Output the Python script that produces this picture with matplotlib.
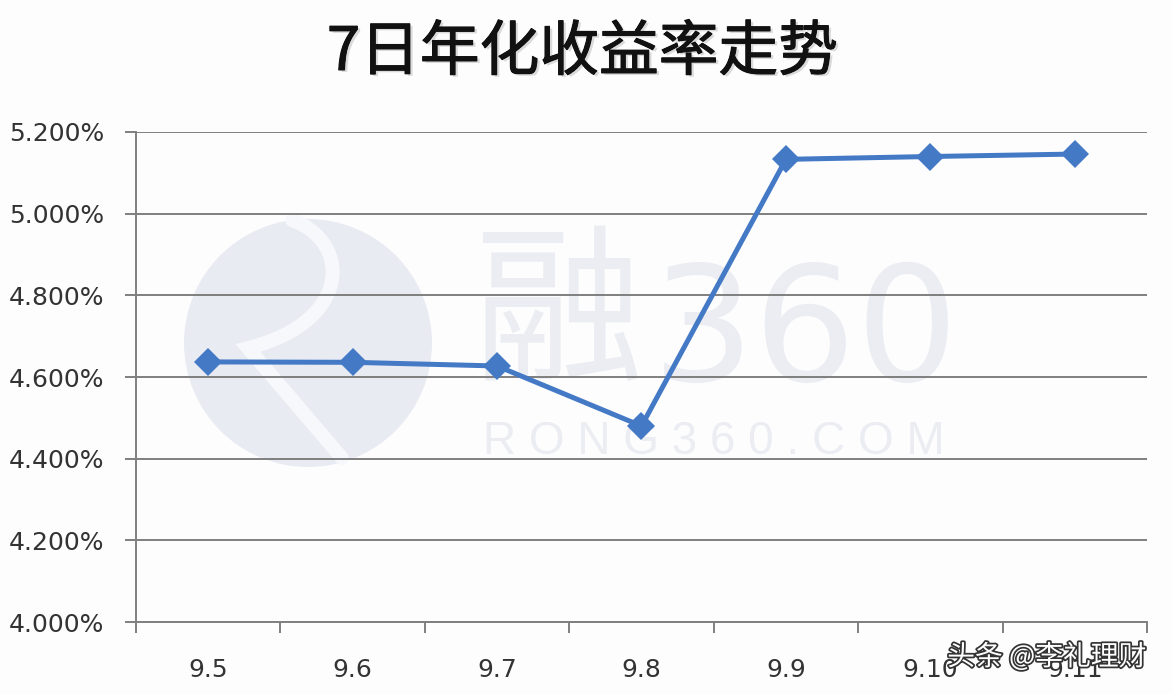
import matplotlib.pyplot as plt
from matplotlib.patches import Circle, PathPatch
from matplotlib.path import Path
import matplotlib.patheffects as pe

plt.rcParams['font.family'] = ['Noto Sans CJK SC', 'DejaVu Sans']

# 7-day annualised yield, by date
dates = ['9.5', '9.6', '9.7', '9.8', '9.9', '9.10', '9.11']
rates = [4.637, 4.636, 4.627, 4.480, 5.133, 5.140, 5.146]
yticks = [4.0, 4.2, 4.4, 4.6, 4.8, 5.0, 5.2]

fig = plt.figure(figsize=(11.72, 6.94), dpi=100)
fig.patch.set_facecolor('#fdfdfe')

# background layer for the faint watermark (pixel coords, y up)
bg = fig.add_axes([0, 0, 1, 1], zorder=0)
bg.set_xlim(0, 1172)
bg.set_ylim(0, 694)
bg.axis('off')
bg.add_patch(Circle((308, 351), 124, facecolor='#e9ebf3', edgecolor='none'))
# the white "R" swoosh of the logo
swoosh = Path([(292, 474), (352, 452), (352, 372), (248, 346), (342, 236)],
              [Path.MOVETO, Path.CURVE4, Path.CURVE4, Path.CURVE4, Path.LINETO])
bg.add_patch(PathPatch(swoosh, facecolor='none', edgecolor='#f7f8fb', lw=10,
                       capstyle='round'))
bg.text(558, 376, '融', fontsize=122, color='#ebedf2', ha='center',
        va='center', fontfamily=['Noto Sans CJK SC'])
bg.text(806, 358, '360', fontsize=116, color='#ebedf2', ha='center',
        va='center', fontfamily=['DejaVu Sans'])
bg.text(714, 252, 'R O N G 3 6 0 . C O M', fontsize=33, color='#ebedf2',
        ha='center', va='center',
        fontfamily=['Liberation Sans', 'DejaVu Sans'])

ax = fig.add_axes([0.116, 0.1037, 0.8627, 0.7061], zorder=1)
ax.set_facecolor('none')

x = list(range(len(dates)))
ax.plot(x, rates, color='#4479c6', lw=3.6, marker='D', ms=14,
        markeredgewidth=0, zorder=3)

ax.set_xlim(-0.5, len(dates) - 0.5)
ax.set_ylim(4.0, 5.2)
ax.set_yticks(yticks)
ax.set_yticklabels(['%.3f%%' % v for v in yticks])
ax.set_xticks(x)
ax.set_xticklabels(dates)
ax.set_xticks([i - 0.5 for i in range(len(dates) + 1)], minor=True)

ax.grid(axis='y', color='#7f7f7f', lw=1.4)
for s in ['top', 'right']:
    ax.spines[s].set_visible(False)
ax.spines['left'].set_color('#7f7f7f')
ax.spines['bottom'].set_color('#7f7f7f')
ax.spines['left'].set_linewidth(1.4)
ax.spines['bottom'].set_linewidth(1.4)

ax.tick_params(axis='y', length=8, width=1.4, color='#7f7f7f', pad=15,
               labelsize=18, labelcolor='#333333')
ax.tick_params(axis='x', which='major', length=0, pad=26, labelsize=18,
               labelcolor='#333333')
ax.tick_params(axis='x', which='minor', length=8, width=1.4,
               color='#7f7f7f')
for lab in ax.get_yticklabels() + ax.get_xticklabels():
    lab.set_fontfamily('DejaVu Sans')

fig.text(0.497, 0.923, '7日年化收益率走势', fontsize=43, fontweight='medium',
         ha='center', va='center', color='#111111', zorder=3,
         path_effects=[pe.withSimplePatchShadow(offset=(2, -1.5),
                                                shadow_rgbFace='#8a8a8a'),
                       pe.withStroke(linewidth=0.8, foreground='#111111')])

fig.text(0.978, 0.053, '头条 @李礼理财', fontsize=20, color='white',
         ha='right', va='center', zorder=5,
         path_effects=[pe.withStroke(linewidth=2.5, foreground='#333333')])

fig.savefig('out.png', dpi=100, facecolor=fig.get_facecolor())
